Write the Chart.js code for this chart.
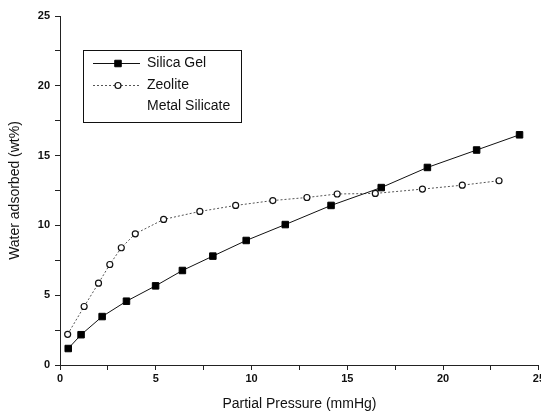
<!DOCTYPE html>
<html>
<head>
<meta charset="utf-8">
<script src="https://cdn.jsdelivr.net/npm/chart.js@4.4.1/dist/chart.umd.min.js"></script>
<style>
html,body{margin:0;padding:0;background:#fff;overflow:hidden;}
#wrap{width:547px;height:420px;}
</style>
</head>
<body>
<div id="wrap"><canvas id="c" width="547" height="420"></canvas></div>
<script>
// ---- data ----
const seriesNames = ["Silica Gel", "Zeolite", "Metal Silicate"];
const silicaX = [0.43, 1.10, 2.20, 3.47, 4.99, 6.39, 7.98, 9.72, 11.76, 14.15, 16.77, 19.18, 21.75, 23.99];
const silicaY = [1.18, 2.17, 3.47, 4.57, 5.67, 6.77, 7.80, 8.92, 10.06, 11.43, 12.71, 14.15, 15.40, 16.49];
const zeoliteX = [0.40, 1.26, 2.01, 2.60, 3.20, 3.93, 5.41, 7.30, 9.17, 11.11, 12.89, 14.47, 16.46, 18.92, 21.00, 22.92];
const zeoliteY = [2.20, 4.19, 5.86, 7.20, 8.40, 9.40, 10.43, 11.00, 11.43, 11.78, 12.00, 12.25, 12.29, 12.60, 12.88, 13.20];
const metalX = [];
const metalY = [];
const xTickLabels = ["0", "5", "10", "15", "20", "25"];
const yTickLabels = ["0", "5", "10", "15", "20", "25"];
const xTitle = "Partial Pressure (mmHg)";
const yTitle = "Water adsorbed (wt%)";

const FONT = "'Liberation Sans', Arial, Helvetica, sans-serif";
const pts = (xs, ys) => xs.map((x, i) => ({x: x, y: ys[i]}));

const legendPlugin = {
  id: 'boxLegend',
  afterDatasetsDraw(chart) {
    const ctx = chart.ctx;
    ctx.save();
    const bx = 83.5, by = 50.5, bw = 158, bh = 72;
    ctx.fillStyle = '#fff';
    ctx.fillRect(bx, by, bw, bh);
    ctx.strokeStyle = '#111';
    ctx.lineWidth = 1;
    ctx.setLineDash([]);
    ctx.strokeRect(bx, by, bw, bh);
    const rows = [63, 85, 106];
    chart.data.datasets.forEach((ds, i) => {
      const y = rows[i];
      if (ds.data.length) {
        ctx.save();
        ctx.strokeStyle = ds.borderColor;
        ctx.lineWidth = ds.borderWidth;
        ctx.setLineDash(ds.borderDash || []);
        ctx.beginPath();
        ctx.moveTo(93, y + 0.5);
        ctx.lineTo(140, y + 0.5);
        ctx.stroke();
        ctx.restore();
        ctx.save();
        ctx.fillStyle = ds.pointBackgroundColor;
        ctx.strokeStyle = ds.pointBorderColor;
        ctx.lineWidth = ds.pointBorderWidth;
        ctx.setLineDash([]);
        Chart.helpers.drawPoint(ctx, {
          pointStyle: ds.pointStyle, radius: ds.pointRadius, borderWidth: ds.pointBorderWidth
        }, 118, y + 0.5);
        ctx.restore();
      }
      ctx.fillStyle = '#111';
      ctx.font = '14px ' + FONT;
      ctx.textBaseline = 'middle';
      ctx.textAlign = 'left';
      ctx.fillText(ds.label, 147, y);
    });
    ctx.restore();
  }
};

new Chart(document.getElementById('c'), {
  type: 'scatter',
  data: {
    datasets: [
      {
        label: seriesNames[0],
        data: pts(silicaX, silicaY),
        showLine: true,
        borderColor: '#111',
        borderWidth: 1,
        pointStyle: 'rect',
        pointRadius: 4.6,
        pointBackgroundColor: '#000',
        pointBorderColor: '#000',
        pointBorderWidth: 1
      },
      {
        label: seriesNames[1],
        data: pts(zeoliteX, zeoliteY),
        showLine: true,
        borderColor: '#555',
        borderWidth: 1,
        borderDash: [2, 2],
        pointStyle: 'circle',
        pointRadius: 3,
        pointBackgroundColor: '#fff',
        pointBorderColor: '#111',
        pointBorderWidth: 1.2
      },
      {
        label: seriesNames[2],
        data: pts(metalX, metalY),
        showLine: false,
        borderColor: '#111',
        borderWidth: 1,
        pointRadius: 0
      }
    ]
  },
  options: {
    responsive: false,
    animation: false,
    devicePixelRatio: 1,
    layout: {padding: {top: 16, right: 0, bottom: 0, left: 0}},
    plugins: {legend: {display: false}, tooltip: {enabled: false}},
    scales: {
      x: {
        type: 'linear', min: 0, max: 25,
        afterFit: s => { s.height = 55; },
        grid: {drawOnChartArea: false, tickLength: 5, color: '#222', tickWidth: 1},
        border: {display: true, color: '#222', width: 1},
        ticks: {
          stepSize: 2.5, autoSkip: false, maxRotation: 0, padding: 2,
          color: '#111', font: {family: FONT, size: 11, weight: 'bold'},
          callback: v => (Math.abs(v % 5) < 1e-6 ? xTickLabels[Math.round(v / 5)] : '')
        },
        title: {display: true, text: xTitle, color: '#111',
          font: {family: FONT, size: 14}, padding: {top: 4, bottom: 7}}
      },
      y: {
        type: 'linear', min: 0, max: 25,
        afterFit: s => { s.width = 60; },
        grid: {drawOnChartArea: false, tickLength: 5, color: '#222', tickWidth: 1},
        border: {display: true, color: '#222', width: 1},
        ticks: {
          stepSize: 2.5, autoSkip: false, padding: 5,
          color: '#111', font: {family: FONT, size: 11, weight: 'bold'},
          callback: v => (Math.abs(v % 5) < 1e-6 ? yTickLabels[Math.round(v / 5)] : '')
        },
        title: {display: true, text: yTitle, color: '#111',
          font: {family: FONT, size: 14}, padding: {top: 7, bottom: 0}}
      }
    }
  },
  plugins: [legendPlugin]
});
</script>
</body>
</html>
